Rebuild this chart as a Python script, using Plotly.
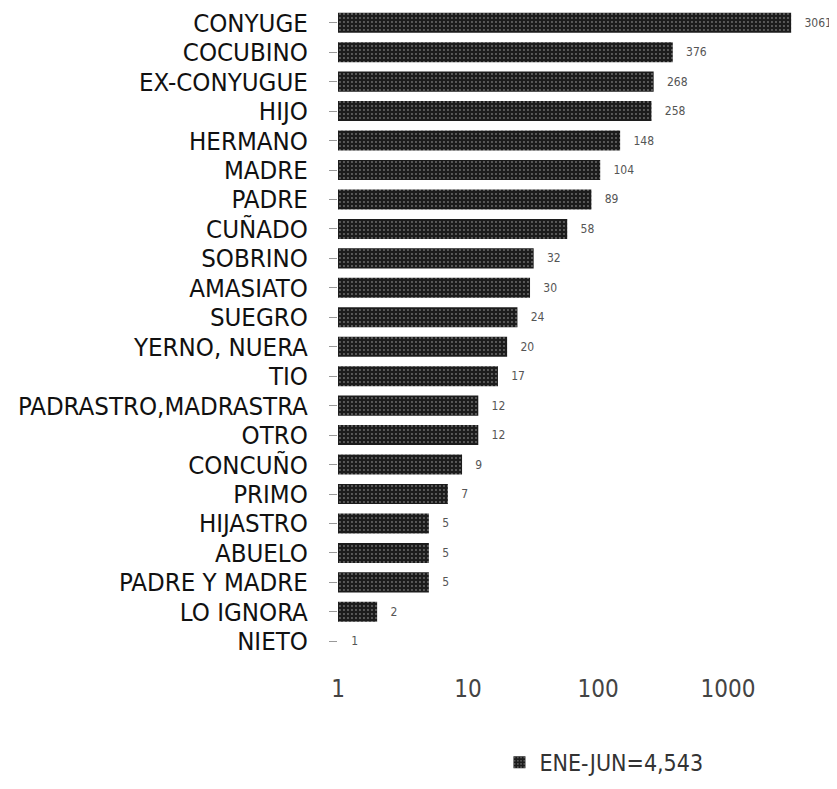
import plotly.graph_objects as go

categories = ["CONYUGE", "COCUBINO", "EX-CONYUGUE", "HIJO", "HERMANO", "MADRE", "PADRE",
              "CUÑADO", "SOBRINO", "AMASIATO", "SUEGRO", "YERNO, NUERA", "TIO",
              "PADRASTRO,MADRASTRA", "OTRO", "CONCUÑO", "PRIMO", "HIJASTRO", "ABUELO",
              "PADRE Y MADRE", "LO IGNORA", "NIETO"]
values = [3061, 376, 268, 258, 148, 104, 89, 58, 32, 30, 24, 20, 17, 12, 12, 9, 7, 5, 5, 5, 2, 1]
series_name = "ENE-JUN=4,543"
tick_vals = [1, 10, 100, 1000]
tick_text = ["1", "10", "100", "1000"]

FONT = "DejaVu Sans Condensed, Liberation Sans Narrow, sans-serif"

fig = go.Figure(go.Bar(
    x=values, y=categories, orientation="h", name=series_name,
    marker=dict(color="#1c1c1c", line=dict(width=0),
                pattern=dict(shape=".", fgcolor="#bfbfbf", size=4, solidity=0.18)),
    width=0.68,
    text=[f"   {v}" for v in values], textposition="outside",
    textfont=dict(family=FONT, size=12, color="#555"),
    cliponaxis=False, showlegend=True,
))

fig.update_layout(
    width=829, height=781,
    margin=dict(l=330, r=31, t=0, b=133, autoexpand=False),
    paper_bgcolor="white", plot_bgcolor="white",
    font=dict(family=FONT, color="#222"),
    legend=dict(orientation="h", x=0.345, y=-0.131, xanchor="left", yanchor="top",
                font=dict(family=FONT, size=23, color="#333")),
)
fig.update_xaxes(type="log", range=[0, 3.6], tickvals=tick_vals, ticktext=tick_text,
                 automargin=False,
                 showgrid=False, zeroline=False, showline=False,
                 ticks="outside", ticklen=11, tickcolor="rgba(0,0,0,0)",
                 tickfont=dict(family=FONT, size=24, color="#444"))
fig.update_yaxes(categoryorder="array", categoryarray=categories[::-1],
                 tickmode="array", tickvals=categories, automargin=False,
                 showgrid=False, showline=False, ticks="outside", ticklen=8,
                 tickcolor="#999", tickwidth=1, ticklabelstandoff=16,
                 tickfont=dict(family=FONT, size=25.6, color="#111"))

fig.write_html("out.html")
